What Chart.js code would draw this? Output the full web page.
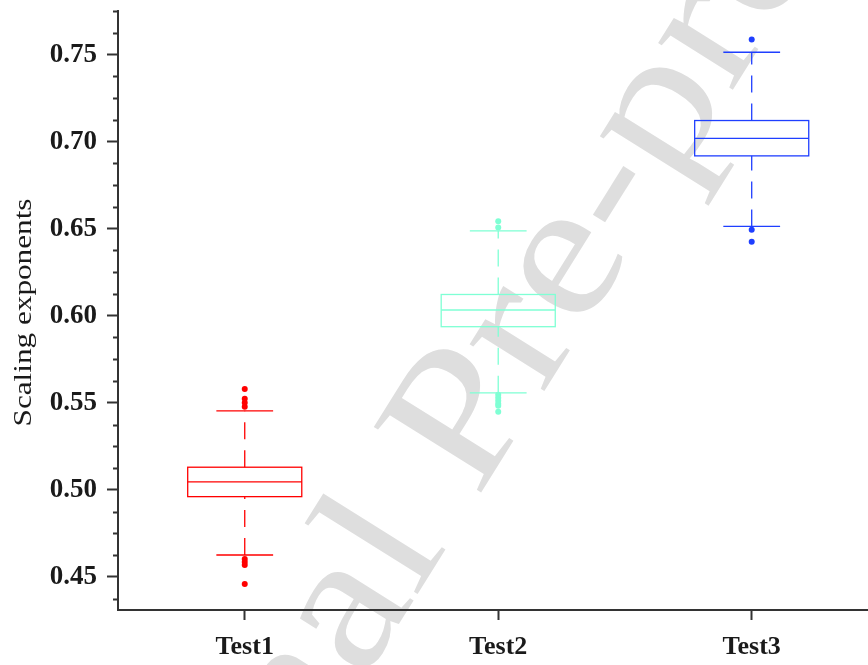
<!DOCTYPE html>
<html>
<head>
<meta charset="utf-8">
<script src="https://cdn.jsdelivr.net/npm/chart.js@4"></script>
<style>
  html, body { margin: 0; padding: 0; background: #fff; }
  #wrap { width: 868px; height: 665px; position: relative; }
</style>
</head>
<body>
<div id="wrap"><canvas id="chart"></canvas></div>
<script>
// box plot values
const categories = ['Test1', 'Test2', 'Test3'];
const whiskerLow = [0.4626, 0.5557, 0.6513];
const q1 = [0.4961, 0.5937, 0.6918];
const medians = [0.5046, 0.6033, 0.7019];
const q3 = [0.5130, 0.6122, 0.7121];
const whiskerHigh = [0.5454, 0.6487, 0.7513];
const outliersTest1 = [0.5579, 0.5523, 0.5500, 0.5477, 0.4603, 0.4586, 0.4569, 0.4460];
const outliersTest2 = [0.6542, 0.6506, 0.5546, 0.5529, 0.5511, 0.5494, 0.5483, 0.5448];
const outliersTest3 = [0.7586, 0.6494, 0.6425];
const yMajorTicks = [0.45, 0.50, 0.55, 0.60, 0.65, 0.70, 0.75];

const colors = ['#ff0000', '#7fffd4', '#1f3fff'];
const axisColor = '#333333';
const serif = '"Liberation Serif", "Times New Roman", serif';

const outliers = [outliersTest1, outliersTest2, outliersTest3];

// watermark behind everything
const watermark = {
    id: 'watermark',
    beforeDraw(chart) {
        const ctx = chart.ctx;
        ctx.save();
        ctx.translate(477, 499);
        ctx.rotate(-58 * Math.PI / 180);
        ctx.scale(1.15, 1);
        ctx.font = '192px ' + serif;
        ctx.fillStyle = '#dedede';
        ctx.textBaseline = 'alphabetic';
        const w = ctx.measureText('Journal ').width;
        ctx.fillText('Journal Pre-proof', -w, 0);
        ctx.restore();
    }
};

// boxes, whiskers and caps, placed through the chart scales
const boxplot = {
    id: 'boxplot',
    beforeDatasetsDraw(chart) {
        const ctx = chart.ctx;
        const xs = chart.scales.x;
        const ys = chart.scales.y;
        ctx.save();
        categories.forEach((c, i) => {
            const pos = i + 1;
            const x = xs.getPixelForValue(pos);
            const bl = xs.getPixelForValue(pos - 0.225);
            const br = xs.getPixelForValue(pos + 0.225);
            const cl = xs.getPixelForValue(pos - 0.112);
            const cr = xs.getPixelForValue(pos + 0.112);
            const yLo = ys.getPixelForValue(whiskerLow[i]);
            const yQ1 = ys.getPixelForValue(q1[i]);
            const yMed = ys.getPixelForValue(medians[i]);
            const yQ3 = ys.getPixelForValue(q3[i]);
            const yHi = ys.getPixelForValue(whiskerHigh[i]);

            ctx.strokeStyle = colors[i];
            ctx.lineWidth = 1.3;

            // dashed whiskers, drawn upward
            ctx.setLineDash([17, 11]);
            ctx.beginPath();
            ctx.moveTo(x, yQ3);
            ctx.lineTo(x, yHi);
            ctx.moveTo(x, yLo);
            ctx.lineTo(x, yQ1);
            ctx.stroke();
            ctx.setLineDash([]);

            // caps
            ctx.beginPath();
            ctx.moveTo(cl, yHi);
            ctx.lineTo(cr, yHi);
            ctx.moveTo(cl, yLo);
            ctx.lineTo(cr, yLo);
            ctx.stroke();

            // box and median
            ctx.strokeRect(bl, yQ3, br - bl, yQ1 - yQ3);
            ctx.beginPath();
            ctx.moveTo(bl, yMed);
            ctx.lineTo(br, yMed);
            ctx.stroke();
        });
        ctx.restore();
    },
    afterDraw(chart) {
        const ctx = chart.ctx;
        const ys = chart.scales.y;
        const area = chart.chartArea;
        const left = area.left;
        ctx.save();
        // x axis line runs to the edge of the picture
        ctx.strokeStyle = axisColor;
        ctx.lineWidth = 2;
        ctx.beginPath();
        ctx.moveTo(area.right - 1, Math.round(area.bottom));
        ctx.lineTo(chart.width, Math.round(area.bottom));
        ctx.stroke();
        // minor ticks every 0.0125
        ctx.beginPath();
        for (let k = 35; k <= 62; k++) {
            if (k % 4 === 0) continue;
            const y = Math.round(ys.getPixelForValue(k * 0.0125)) + 0.5;
            ctx.moveTo(left - 5, y);
            ctx.lineTo(left, y);
        }
        ctx.stroke();
        // y axis title (stretched like the original)
        ctx.translate(31, (area.top + area.bottom) / 2 + 2);
        ctx.rotate(-Math.PI / 2);
        ctx.scale(1.2, 1);
        ctx.font = '26px ' + serif;
        ctx.fillStyle = '#1a1a1a';
        ctx.textAlign = 'center';
        ctx.textBaseline = 'alphabetic';
        ctx.fillText('Scaling exponents', 0, 0);
        ctx.restore();
    }
};

const ctx = document.getElementById('chart').getContext('2d');
new Chart(ctx, {
    type: 'scatter',
    data: {
        datasets: outliers.map((arr, i) => ({
            label: categories[i],
            data: arr.map(v => ({ x: i + 1, y: v })),
            backgroundColor: colors[i],
            borderColor: colors[i],
            borderWidth: 0,
            pointRadius: 3
        }))
    },
    options: {
        responsive: true,
        maintainAspectRatio: false,
        animation: false,
        layout: { padding: { top: 11, right: 0, bottom: 0, left: 0 } },
        plugins: {
            legend: { display: false },
            tooltip: { enabled: false }
        },
        scales: {
            x: {
                type: 'linear',
                min: 0.5,
                max: 3.443,
                afterBuildTicks: s => { s.ticks = categories.map((c, i) => ({ value: i + 1 })); },
                afterFit: s => { s.height = 55; s.paddingLeft = 0; s.paddingRight = 0; },
                ticks: {
                    autoSkip: false,
                    maxRotation: 0,
                    padding: 12,
                    color: '#1a1a1a',
                    font: { family: serif, size: 26, weight: 'bold' },
                    callback: v => categories[Math.round(v) - 1] || ''
                },
                grid: { drawOnChartArea: false, tickLength: 10, tickColor: axisColor, tickWidth: 2 },
                border: { display: true, color: axisColor, width: 2 }
            },
            y: {
                min: 0.431,
                max: 0.775,
                afterBuildTicks: s => { s.ticks = yMajorTicks.map(v => ({ value: v })); },
                afterFit: s => { s.width = 118; s.paddingTop = 0; s.paddingBottom = 0; },
                ticks: {
                    padding: 10,
                    color: '#1a1a1a',
                    font: { family: serif, size: 27, weight: 'bold' },
                    callback: v => v.toFixed(2)
                },
                grid: { drawOnChartArea: false, tickLength: 11, tickColor: axisColor, tickWidth: 2 },
                border: { display: true, color: axisColor, width: 2 }
            }
        }
    },
    plugins: [watermark, boxplot]
});
</script>
</body>
</html>
